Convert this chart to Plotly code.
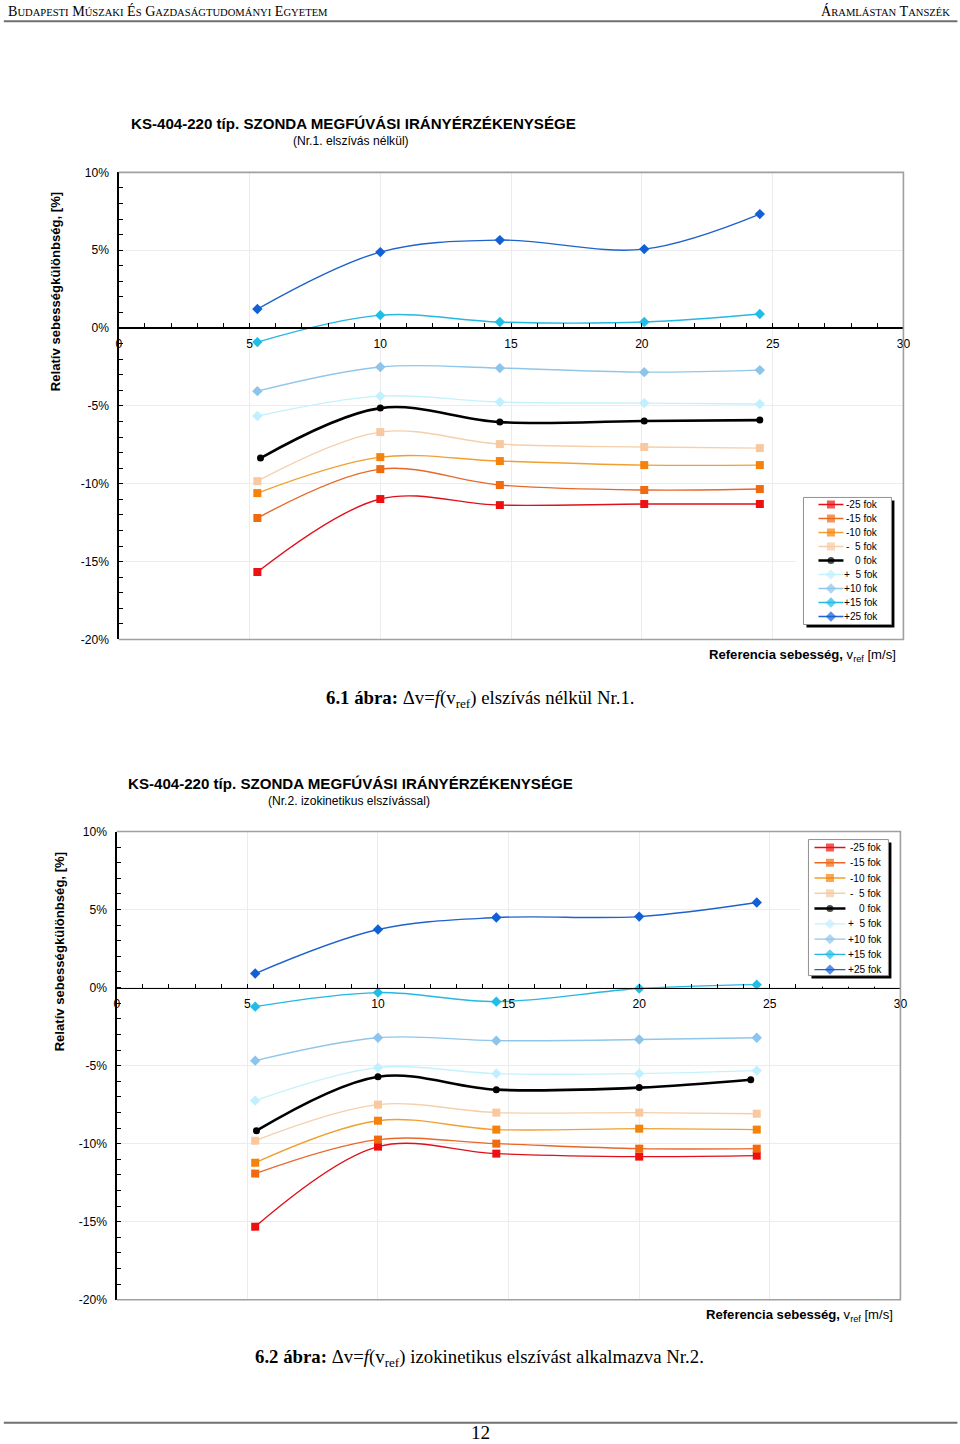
import plotly.graph_objects as go

# ---------------- data ----------------
labels = ["-25 fok", "-15 fok", "-10 fok", "-\u00a0\u00a05 fok", "0 fok",
          "+\u00a0\u00a05 fok", "+10 fok", "+15 fok", "+25 fok"]
y_tick_vals = [-20, -15, -10, -5, 0, 5, 10]
y_tick_text = ["-20%", "-15%", "-10%", "-5%", "0%", "5%", "10%"]

# Chart 1 (Nr.1. elszívás nélkül)
v_ref_1 = [5.3, 10.0, 14.57, 20.09, 24.51]
v_ref_1_zero = [5.42, 10.0, 14.57, 20.09, 24.51]
m25_1 = [-15.67, -10.98, -11.37, -11.30, -11.30]
m15_1 = [-12.2, -9.06, -10.08, -10.40, -10.34]
m10_1 = [-10.6, -8.29, -8.54, -8.80, -8.80]
m5_1 = [-9.83, -6.68, -7.45, -7.64, -7.71]
z0_1 = [-8.35, -5.14, -6.04, -5.97, -5.91]
p5_1 = [-5.65, -4.37, -4.75, -4.82, -4.88]
p10_1 = [-4.05, -2.50, -2.57, -2.83, -2.70]
p15_1 = [-0.90, 0.83, 0.39, 0.39, 0.90]
p25_1 = [1.22, 4.88, 5.65, 5.07, 7.32]

# Chart 2 (Nr.2. izokinetikus elszívással)
v_ref_2 = [5.3, 10.0, 14.53, 20.0, 24.5]
v_ref_2_zero = [5.35, 10.0, 14.53, 20.0, 24.27]
m25_2 = [-15.32, -10.19, -10.64, -10.83, -10.77]
m15_2 = [-11.92, -9.74, -10.0, -10.32, -10.32]
m10_2 = [-11.22, -8.53, -9.10, -9.04, -9.10]
m5_2 = [-9.81, -7.50, -8.01, -8.01, -8.08]
z0_2 = [-9.17, -5.71, -6.54, -6.41, -5.90]
p5_2 = [-7.24, -5.13, -5.51, -5.51, -5.32]
p10_2 = [-4.68, -3.21, -3.40, -3.33, -3.21]
p15_2 = [-1.22, -0.32, -0.90, -0.06, 0.19]
p25_2 = [0.90, 3.72, 4.49, 4.55, 5.45]

# ---------------- styles ----------------
styles = [
    dict(line="#E0101A", mk="#EE1010", sym="square", size=8, w=1.4),
    dict(line="#E8682A", mk="#F06A10", sym="square", size=8, w=1.4),
    dict(line="#F0A030", mk="#F5820A", sym="square", size=8, w=1.4),
    dict(line="#F6CFAA", mk="#F8C8A0", sym="square", size=8, w=1.4),
    dict(line="#000000", mk="#000000", sym="circle", size=7, w=2.6),
    dict(line="#C4F2FC", mk="#C0F0FF", sym="diamond", size=8, w=1.4),
    dict(line="#90C6EA", mk="#8CC4EC", sym="diamond", size=8, w=1.4),
    dict(line="#24B8E2", mk="#20BEE6", sym="diamond", size=8, w=1.4),
    dict(line="#1E62CC", mk="#1060D8", sym="diamond", size=8, w=1.4),
]

W, H = 960, 1444
SANS = "Liberation Sans, Arial, sans-serif"
SERIF = "Liberation Serif, Times New Roman, serif"

# the photographed page comes out slightly scaled/offset; compensate
S, OX, OY = 0.99, 2.2, 6.7


def px(x):
    return (x - OX) / S / W


def py(y):
    return 1 - (y - OY) / S / H


def fs(v):
    return round(v / S, 1)


fig = go.Figure()

charts = [
    dict(xa="x", ya="y", xs=v_ref_1, xz=v_ref_1_zero,
         series=[m25_1, m15_1, m10_1, m5_1, z0_1, p5_1, p10_1, p15_1, p25_1]),
    dict(xa="x2", ya="y2", xs=v_ref_2, xz=v_ref_2_zero,
         series=[m25_2, m15_2, m10_2, m5_2, z0_2, p5_2, p10_2, p15_2, p25_2]),
]

for ch in charts:
    for i, (s, st) in enumerate(zip(ch["series"], styles)):
        xs = ch["xz"] if i == 4 else ch["xs"]
        fig.add_trace(go.Scatter(
            x=xs, y=s, mode="lines+markers", name=labels[i],
            xaxis=ch["xa"], yaxis=ch["ya"], showlegend=False,
            line=dict(color=st["line"], width=st["w"], shape="spline", smoothing=1.0),
            marker=dict(symbol=st["sym"], size=st["size"], color=st["mk"],
                        line=dict(width=0)),
            hoverinfo="skip"))

# ---------------- manual legends (own helper axes, pixel-like ranges) ----------------
legends = [
    dict(xa="x3", ya="y3", dom_x=(795, 905), dom_y=(488, 636),
         box=(803, 497, 891, 624), y0=504, dy=14, lx0=818, lx1=843, tx=880),
    dict(xa="x4", ya="y4", dom_x=(800, 900), dom_y=(830, 986),
         box=(808, 839, 888, 975), y0=847, dy=15.25, lx0=814, lx1=845, tx=884),
]

shapes = []
annotations = []

for lg in legends:
    bx0, by0, bx1, by1 = lg["box"]
    shapes.append(dict(type="rect", xref=lg["xa"], yref=lg["ya"], layer="below",
                       x0=bx0 + 3, y0=by0 + 3, x1=bx1 + 3, y1=by1 + 3,
                       fillcolor="black", line=dict(width=0)))
    shapes.append(dict(type="rect", xref=lg["xa"], yref=lg["ya"], layer="below",
                       x0=bx0, y0=by0, x1=bx1, y1=by1,
                       fillcolor="white", line=dict(color="#909090", width=1)))
    xm = (lg["lx0"] + lg["lx1"]) / 2
    for i, st in enumerate(styles):
        yy = lg["y0"] + i * lg["dy"]
        fig.add_trace(go.Scatter(
            x=[lg["lx0"], xm, lg["lx1"]], y=[yy, yy, yy], mode="lines+markers",
            xaxis=lg["xa"], yaxis=lg["ya"], showlegend=False, hoverinfo="skip",
            line=dict(color=st["line"], width=st["w"] if i != 4 else 2.6),
            marker=dict(symbol=st["sym"], size=[0, st["size"], 0], color=st["mk"],
                        line=dict(width=0))))
        annotations.append(dict(xref=lg["xa"], yref=lg["ya"], x=lg["tx"], y=yy,
                                text=labels[i], showarrow=False, xanchor="right",
                                yanchor="middle",
                                font=dict(family=SANS, size=fs(10), color="black")))

# ---------------- axes ----------------
plot_boxes = [
    dict(x0=118, x1=903, y0=172, y1=639, zero=327),
    dict(x0=116, x1=900, y0=831, y1=1299, zero=987),
]

layout_axes = {}
for k, (pb, ch) in enumerate(zip(plot_boxes, charts)):
    xname = "xaxis" if k == 0 else "xaxis2"
    yname = "yaxis" if k == 0 else "yaxis2"
    layout_axes[xname] = dict(
        domain=[px(pb["x0"]), px(pb["x1"])], range=[0, 30],
        anchor="free", position=py(pb["zero"]),
        tick0=0, dtick=5, ticks="inside", ticklen=4, tickcolor="black",
        minor=dict(dtick=1, ticks="inside", ticklen=4, tickcolor="black", showgrid=False),
        showline=True, linecolor="black", linewidth=1.6,
        showgrid=True, gridcolor="#ECECEC", gridwidth=1, zeroline=False,
        tickfont=dict(family=SANS, size=fs(12), color="black"),
        ticklabelstandoff=4, fixedrange=True)
    layout_axes[yname] = dict(
        domain=[py(pb["y1"]), py(pb["y0"])], range=[-20, 10],
        anchor=ch["xa"], tickvals=y_tick_vals, ticktext=y_tick_text,
        ticks="inside", ticklen=4, tickcolor="black",
        minor=dict(dtick=1, ticks="inside", ticklen=4, tickcolor="black", showgrid=False),
        showline=True, linecolor="black", linewidth=1.4,
        showgrid=True, gridcolor="#ECECEC", gridwidth=1, zeroline=False,
        tickfont=dict(family=SANS, size=fs(12), color="black"),
        ticklabelstandoff=6, fixedrange=True)
    shapes.append(dict(type="path", xref="paper", yref="paper", layer="above",
                       path=f"M {px(pb['x0'])} {py(pb['y0'])} L {px(pb['x1'])} {py(pb['y0'])} "
                            f"L {px(pb['x1'])} {py(pb['y1'])} L {px(pb['x0'])} {py(pb['y1'])}",
                       line=dict(color="#A0A0A0", width=1.6)))

for k, lg in enumerate(legends):
    xname = "xaxis3" if k == 0 else "xaxis4"
    yname = "yaxis3" if k == 0 else "yaxis4"
    layout_axes[xname] = dict(domain=[px(lg["dom_x"][0]), px(lg["dom_x"][1])],
                              range=[lg["dom_x"][0], lg["dom_x"][1]],
                              anchor=lg["ya"], visible=False, fixedrange=True)
    layout_axes[yname] = dict(domain=[py(lg["dom_y"][1]), py(lg["dom_y"][0])],
                              range=[lg["dom_y"][1], lg["dom_y"][0]],
                              anchor=lg["xa"], visible=False, fixedrange=True)

# ---------------- page texts ----------------
def ann(x, y, text, size, family=SANS, xanchor="left", yanchor="middle", angle=0):
    annotations.append(dict(xref="paper", yref="paper", x=px(x), y=py(y), text=text,
                            showarrow=False, xanchor=xanchor, yanchor=yanchor,
                            textangle=angle,
                            font=dict(family=family, size=fs(size), color="black")))


def smallcaps(words, big=14, small=10.5):
    parts = []
    for w in words:
        parts.append(f"<span style='font-size:{fs(big)}px'>{w[0]}</span>"
                     f"<span style='font-size:{fs(small)}px'>{w[1:]}</span>")
    return " ".join(parts)


ann(5, 11, smallcaps(["BUDAPESTI", "MÚSZAKI", "ÉS", "GAZDASÁGTUDOMÁNYI", "EGYETEM"]),
    14, family=SERIF)
ann(952, 11, smallcaps(["ÁRAMLÁSTAN", "TANSZÉK"]), 14, family=SERIF, xanchor="right")

shapes.append(dict(type="line", xref="paper", yref="paper", x0=px(3), x1=px(957),
                   y0=py(21), y1=py(21), line=dict(color="#707070", width=2)))
shapes.append(dict(type="line", xref="paper", yref="paper", x0=px(3), x1=px(957),
                   y0=py(1422), y1=py(1422), line=dict(color="#707070", width=2)))
ann(480, 1432, "12", 19, family=SERIF, xanchor="center")

# chart titles
ann(128, 123, "<b>KS-404-220 típ. SZONDA MEGFÚVÁSI IRÁNYÉRZÉKENYSÉGE</b>", 14.9)
ann(350, 141, "(Nr.1. elszívás nélkül)", 12, xanchor="center")
ann(125, 783, "<b>KS-404-220 típ. SZONDA MEGFÚVÁSI IRÁNYÉRZÉKENYSÉGE</b>", 14.9)
ann(348, 800, "(Nr.2. izokinetikus elszívással)", 12, xanchor="center")

# axis titles
ytitle = "<b>Relatív sebességkülönbség, [%]</b>"
ann(55, 291, ytitle, 13, xanchor="center", angle=-90)
ann(59, 951, ytitle, 13, xanchor="center", angle=-90)
xtitle = "<b>Referencia sebesség,</b> v<sub>ref</sub> [m/s]"
ann(898, 655, xtitle, 13, xanchor="right")
ann(895, 1315, xtitle, 13, xanchor="right")

# captions
ann(480, 698, "<b>6.1 ábra:</b> Δv=<i>f</i>(v<sub>ref</sub>) elszívás nélkül Nr.1.", 18.6,
    family=SERIF, xanchor="center")
ann(479, 1357, "<b>6.2 ábra:</b> Δv=<i>f</i>(v<sub>ref</sub>) izokinetikus elszívást alkalmazva Nr.2.",
    18.6, family=SERIF, xanchor="center")

fig.update_layout(
    width=W, height=H, margin=dict(l=0, r=0, t=0, b=0),
    paper_bgcolor="white", plot_bgcolor="white",
    showlegend=False, shapes=shapes, annotations=annotations,
    **layout_axes)

fig.write_html(
    "out.html",
    config={"displayModeBar": False, "staticPlot": True},
    post_script="document.body.style.margin='0';document.body.style.padding='0';"
                "document.body.style.overflow='hidden';"
                "document.documentElement.style.overflow='hidden';")
